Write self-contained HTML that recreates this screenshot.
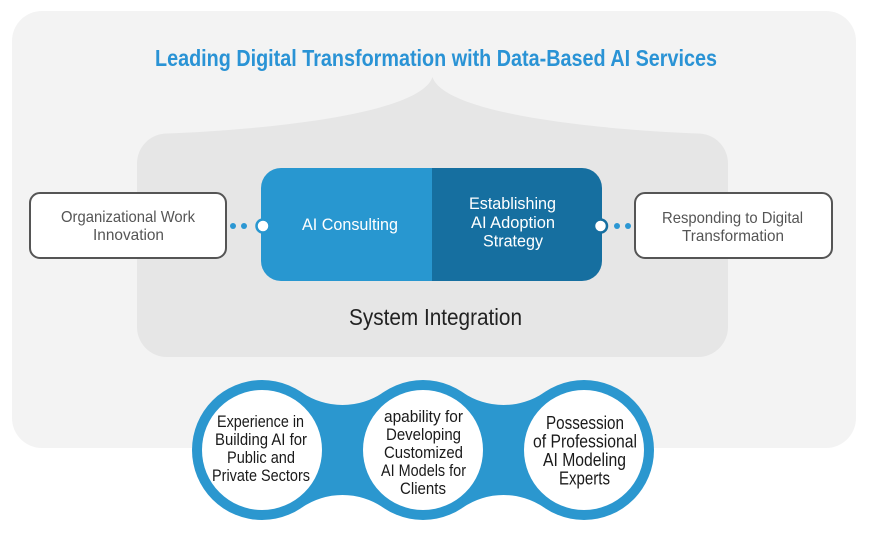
<!DOCTYPE html>
<html>
<head>
<meta charset="utf-8">
<style>
  html, body { margin: 0; padding: 0; background: #ffffff; }
  svg { display: block; }
  text { font-family: "Liberation Sans", sans-serif; }
</style>
</head>
<body>
<svg width="870" height="541" viewBox="0 0 870 541" xmlns="http://www.w3.org/2000/svg">
  <rect x="0" y="0" width="870" height="541" fill="#ffffff"/>
  <!-- outer panel -->
  <rect x="12" y="11" width="844" height="437" rx="30" ry="30" fill="#f3f3f3"/>

  <!-- title -->
  <text x="155" y="66" font-size="23" font-weight="bold" fill="#2a93d5" textLength="562" lengthAdjust="spacingAndGlyphs">Leading Digital Transformation with Data-Based AI Services</text>

  <!-- inner gray panel with brace top -->
  <path d="M 137,163.5 A 30 30 0 0 1 167,133.5 C 260,130 420,115 432.5,77 C 445,115 605,130 698,133.5 A 30 30 0 0 1 728,163.5 L 728,327 A 30 30 0 0 1 698,357 L 167,357 A 30 30 0 0 1 137,327 Z" fill="#e6e6e6"/>

  <!-- blue box -->
  <path d="M 432,168 L 281,168 A 20 20 0 0 0 261,188 L 261,261 A 20 20 0 0 0 281,281 L 432,281 Z" fill="#2897d0"/>
  <path d="M 432,168 L 582,168 A 20 20 0 0 1 602,188 L 602,261 A 20 20 0 0 1 582,281 L 432,281 Z" fill="#166fa0"/>

  <text x="302" y="230" font-size="17" fill="#ffffff" textLength="96" lengthAdjust="spacingAndGlyphs">AI Consulting</text>
  <text x="469" y="209" font-size="17" fill="#ffffff" textLength="87" lengthAdjust="spacingAndGlyphs">Establishing</text>
  <text x="471" y="228" font-size="17" fill="#ffffff" textLength="84" lengthAdjust="spacingAndGlyphs">AI Adoption</text>
  <text x="483" y="246.5" font-size="17" fill="#ffffff" textLength="60" lengthAdjust="spacingAndGlyphs">Strategy</text>

  <!-- side nodes -->
  <rect x="30" y="193" width="196" height="65" rx="10" ry="10" fill="#ffffff" stroke="#555555" stroke-width="2"/>
  <text x="61" y="222" font-size="16" fill="#555555" textLength="134" lengthAdjust="spacingAndGlyphs">Organizational Work</text>
  <text x="93" y="240" font-size="16" fill="#555555" textLength="71" lengthAdjust="spacingAndGlyphs">Innovation</text>

  <rect x="635" y="193" width="197" height="65" rx="10" ry="10" fill="#ffffff" stroke="#555555" stroke-width="2"/>
  <text x="662" y="223" font-size="16" fill="#555555" textLength="141" lengthAdjust="spacingAndGlyphs">Responding to Digital</text>
  <text x="682" y="241" font-size="16" fill="#555555" textLength="102" lengthAdjust="spacingAndGlyphs">Transformation</text>

  <!-- connectors -->
  <circle cx="233" cy="226" r="3" fill="#2b97d3"/>
  <circle cx="244" cy="226" r="3" fill="#2b97d3"/>
  <circle cx="263" cy="226" r="6.5" fill="#ffffff" stroke="#2897d0" stroke-width="2.5"/>
  <circle cx="617" cy="226" r="3" fill="#2b97d3"/>
  <circle cx="628" cy="226" r="3" fill="#2b97d3"/>
  <circle cx="600.5" cy="226" r="6.5" fill="#ffffff" stroke="#166fa0" stroke-width="2.5"/>

  <!-- System Integration -->
  <text x="349" y="325" font-size="23" fill="#222222" textLength="173" lengthAdjust="spacingAndGlyphs">System Integration</text>

  <!-- bottom blob -->
  <g fill="#2b97cf">
    <circle cx="262" cy="450" r="70"/>
    <circle cx="423" cy="450" r="70"/>
    <circle cx="584" cy="450" r="70"/>
    <path d="M 301.66,392.32 A 72.1 72.1 0 0 0 383.34,392.32 L 383.34,507.68 A 72.1 72.1 0 0 0 301.66,507.68 Z"/>
    <path d="M 462.66,392.32 A 72.1 72.1 0 0 0 544.34,392.32 L 544.34,507.68 A 72.1 72.1 0 0 0 462.66,507.68 Z"/>
  </g>
  <g fill="#ffffff">
    <circle cx="262" cy="450" r="60"/>
    <circle cx="423" cy="450" r="60"/>
    <circle cx="584" cy="450" r="60"/>
  </g>

  <g fill="#1a1a1a" font-size="17">
    <text x="217" y="427" textLength="87" lengthAdjust="spacingAndGlyphs">Experience in</text>
    <text x="215" y="445" textLength="92" lengthAdjust="spacingAndGlyphs">Building AI for</text>
    <text x="227" y="463" textLength="68" lengthAdjust="spacingAndGlyphs">Public and</text>
    <text x="212" y="481" textLength="98" lengthAdjust="spacingAndGlyphs">Private Sectors</text>

    <text x="384" y="422" textLength="79" lengthAdjust="spacingAndGlyphs">apability for</text>
    <text x="386" y="440" textLength="75" lengthAdjust="spacingAndGlyphs">Developing</text>
    <text x="384" y="458" textLength="79" lengthAdjust="spacingAndGlyphs">Customized</text>
    <text x="381" y="476" textLength="85" lengthAdjust="spacingAndGlyphs">AI Models for</text>
    <text x="400" y="494" textLength="46" lengthAdjust="spacingAndGlyphs">Clients</text>
  </g>
  <g fill="#1a1a1a" font-size="18">
    <text x="546" y="429" textLength="78" lengthAdjust="spacingAndGlyphs">Possession</text>
    <text x="533" y="447.5" textLength="104" lengthAdjust="spacingAndGlyphs">of Professional</text>
    <text x="543" y="466" textLength="83" lengthAdjust="spacingAndGlyphs">AI Modeling</text>
    <text x="559" y="484.5" textLength="51" lengthAdjust="spacingAndGlyphs">Experts</text>
  </g>
</svg>
</body>
</html>
